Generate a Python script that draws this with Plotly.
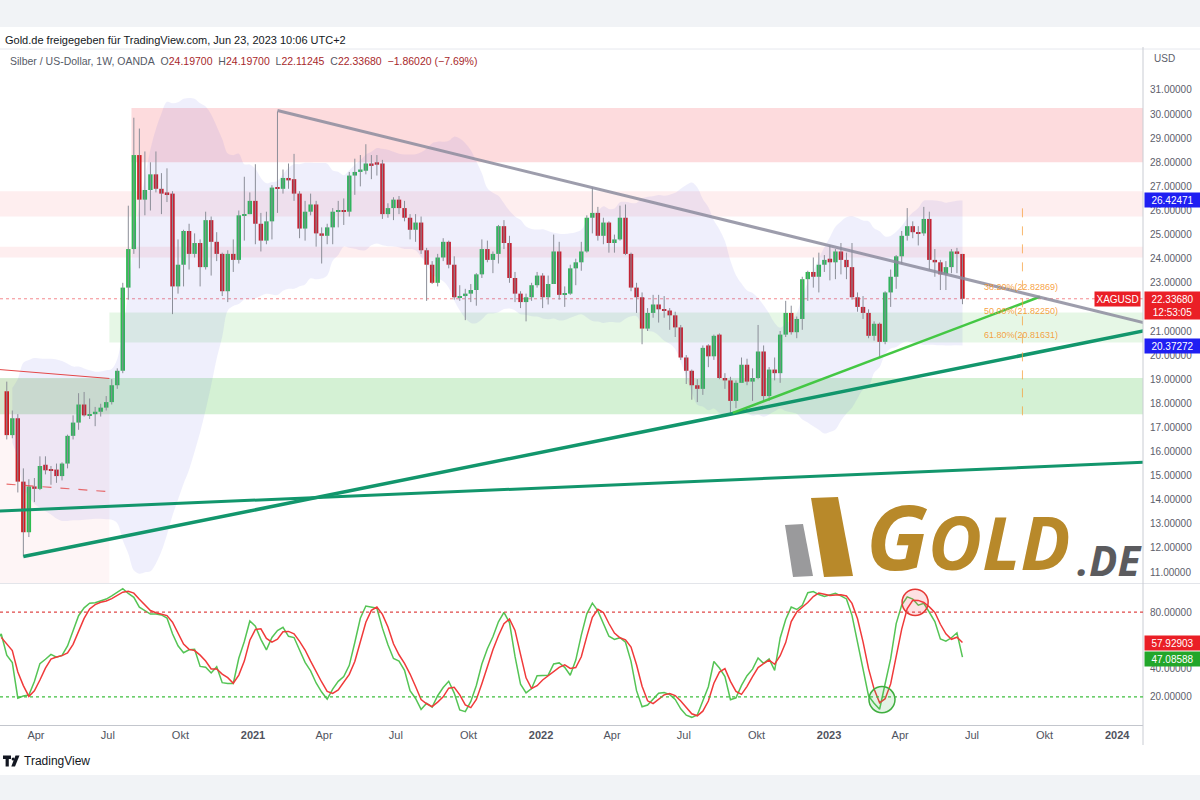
import numpy as np
import pandas as pd
import plotly.graph_objects as go

# ---------------- data (weekly XAGUSD, OANDA) ----------------
# warm-up weeks before the visible window (Oct 21 2019 .. Feb 17 2020), used only for indicators
prior_open = [17.50, 17.52, 18.13, 16.82, 16.94, 17.00, 16.97, 16.50, 16.95, 17.15, 17.80, 18.06, 17.96, 18.04, 18.09, 18.04, 17.75, 17.73]
prior_high = [17.72, 18.18, 18.22, 17.05, 17.10, 17.05, 17.18, 17.13, 17.25, 17.85, 18.37, 18.83, 18.10, 18.24, 18.34, 18.09, 17.82, 18.62]
prior_low = [17.36, 17.44, 16.77, 16.58, 16.89, 16.86, 16.45, 16.50, 16.85, 17.10, 17.75, 17.70, 17.60, 17.85, 17.85, 17.40, 17.40, 17.70]
prior_close = [17.52, 18.13, 16.82, 16.94, 17.00, 16.97, 16.50, 16.95, 17.15, 17.80, 18.06, 17.96, 18.04, 18.09, 18.04, 17.75, 17.73, 18.48]

# visible weeks Feb 24 2020 .. Jun 19 2023
open_ = [
    18.50, 16.68, 17.38, 14.75, 12.65, 14.55, 14.45, 15.45, 15.22, 15.25, 14.98, 15.50, 16.65, 17.20, 17.95, 17.50, 17.55, 17.65, 17.82, 18.05,
    18.75, 19.35, 22.80, 24.40, 28.30, 26.45, 26.85, 27.50, 26.90, 26.75, 26.70, 22.85, 23.75, 25.15, 24.20, 24.65, 23.65, 25.60, 24.70, 24.20,
    22.65, 24.20, 23.95, 25.80, 25.85, 26.40, 25.45, 24.75, 25.55, 26.95, 26.90, 27.35, 27.30, 26.70, 25.25, 25.95, 26.25, 25.05, 24.95, 25.30,
    25.95, 26.00, 25.95, 27.45, 27.60, 27.65, 27.95, 28.00, 27.95, 25.85, 26.10, 26.45, 26.10, 25.70, 25.20, 25.50, 24.35, 23.75, 23.00, 24.05,
    24.70, 23.75, 22.40, 22.45, 22.55, 22.70, 23.35, 24.40, 23.95, 24.20, 25.35, 24.65, 23.20, 22.55, 22.20, 22.40, 22.90, 23.30, 22.40, 22.95,
    24.30, 22.50, 22.55, 23.60, 23.85, 24.30, 25.70, 25.90, 24.95, 25.50, 24.65, 24.80, 25.70, 24.20, 22.80, 22.40, 21.10, 21.75, 22.10, 21.90,
    21.85, 21.65, 21.15, 19.90, 19.35, 18.75, 18.60, 20.40, 19.95, 20.85, 19.05, 18.95, 18.10, 18.85, 19.60, 18.90, 19.05, 20.15, 18.30, 19.40,
    19.25, 20.85, 21.75, 20.95, 21.50, 23.15, 23.45, 23.25, 23.75, 24.00, 23.85, 24.30, 23.95, 23.65, 22.40, 22.00, 21.75, 20.80, 21.30, 20.55,
    22.60, 23.25, 24.10, 24.95, 25.35, 25.10, 25.05, 25.65, 23.95, 23.85, 23.35, 23.65, 24.30, 24.197,
]
high = [
    18.90, 17.70, 17.55, 15.30, 14.85, 14.90, 15.80, 15.80, 15.40, 15.50, 15.55, 16.70, 17.50, 18.42, 18.47, 18.20, 17.85, 17.98, 18.30, 19.00,
    19.45, 23.00, 26.20, 29.85, 29.40, 28.45, 28.00, 28.45, 27.55, 27.75, 26.80, 24.80, 25.20, 25.45, 25.05, 24.80, 25.95, 25.75, 25.10, 24.25,
    24.35, 24.80, 26.00, 27.40, 26.75, 27.92, 25.90, 25.95, 27.05, 30.10, 27.70, 27.95, 28.35, 26.80, 26.40, 26.70, 26.40, 25.30, 25.45, 26.10,
    26.40, 26.50, 27.60, 28.15, 28.30, 28.75, 28.30, 28.30, 28.10, 26.30, 26.55, 26.60, 26.40, 25.85, 25.85, 25.75, 24.45, 23.90, 24.20, 24.85,
    24.75, 24.10, 22.90, 22.75, 22.95, 23.40, 24.80, 24.75, 24.30, 25.40, 25.60, 24.95, 23.45, 22.65, 22.55, 23.00, 23.45, 23.40, 23.30, 25.00,
    24.70, 22.85, 23.75, 24.00, 24.70, 25.80, 26.95, 26.15, 25.70, 25.55, 25.00, 26.20, 26.25, 24.25, 23.00, 22.60, 21.95, 22.50, 22.50, 22.45,
    21.95, 21.80, 21.25, 20.00, 19.40, 19.00, 20.40, 20.45, 20.85, 20.90, 19.25, 19.10, 18.95, 19.90, 19.85, 19.45, 21.25, 20.40, 19.50, 19.90,
    21.00, 22.25, 22.05, 21.60, 23.25, 23.50, 24.05, 24.25, 24.15, 24.55, 24.40, 24.65, 24.25, 24.65, 22.60, 22.45, 21.90, 21.40, 21.35, 22.65,
    23.55, 24.15, 25.15, 26.10, 25.55, 25.35, 26.15, 25.95, 24.40, 23.95, 23.90, 24.40, 24.45, 24.197,
]
low = [
    16.50, 16.55, 14.30, 11.64, 12.45, 13.90, 14.40, 15.05, 14.62, 14.70, 14.80, 15.30, 16.50, 16.90, 17.45, 17.35, 17.05, 17.45, 17.70, 17.95,
    18.60, 19.25, 22.30, 24.20, 23.60, 25.80, 26.00, 26.75, 25.85, 26.35, 21.70, 22.55, 22.85, 23.55, 24.05, 22.85, 23.55, 23.30, 23.90, 22.45,
    22.20, 23.45, 23.80, 24.75, 25.85, 24.60, 24.30, 24.60, 24.80, 25.90, 26.70, 26.90, 26.40, 24.85, 24.75, 25.80, 24.50, 23.80, 24.60, 24.60,
    25.30, 25.40, 25.75, 26.65, 27.00, 27.50, 27.30, 27.45, 25.65, 25.70, 25.60, 25.85, 25.55, 24.80, 24.70, 24.20, 22.25, 22.95, 22.85, 23.90,
    23.60, 22.30, 22.25, 21.45, 22.20, 22.05, 23.20, 23.85, 23.40, 23.80, 24.40, 23.00, 22.20, 21.95, 21.40, 22.25, 22.80, 21.95, 22.10, 22.95,
    22.30, 22.00, 22.50, 22.90, 23.50, 24.25, 25.05, 24.75, 24.60, 24.25, 24.25, 24.75, 24.15, 22.65, 21.75, 20.45, 21.00, 21.55, 21.35, 21.55,
    21.05, 20.75, 19.80, 18.80, 18.15, 18.05, 18.35, 19.50, 19.80, 19.00, 18.60, 17.55, 17.80, 18.85, 18.75, 18.10, 19.00, 18.10, 18.10, 18.95,
    18.85, 20.75, 20.85, 20.70, 21.05, 22.25, 22.80, 22.60, 23.45, 23.10, 23.15, 23.35, 23.15, 22.30, 21.80, 21.50, 20.70, 20.60, 19.90, 20.45,
    22.00, 22.75, 23.80, 24.75, 24.85, 24.55, 24.95, 23.55, 23.25, 22.70, 22.70, 23.40, 23.40, 22.11245,
]
close = [
    16.68, 17.38, 14.75, 12.65, 14.55, 14.45, 15.40, 15.22, 15.20, 14.98, 15.50, 16.65, 17.20, 17.95, 17.50, 17.55, 17.65, 17.82, 18.05, 18.75,
    19.35, 22.80, 24.40, 28.30, 26.45, 26.85, 27.50, 26.90, 26.70, 26.68, 22.85, 23.75, 25.15, 24.20, 24.65, 23.65, 25.60, 24.70, 24.20, 22.65,
    24.20, 23.95, 25.80, 25.85, 26.40, 25.45, 24.75, 25.55, 26.95, 26.90, 27.35, 27.25, 26.70, 25.25, 25.95, 26.25, 25.05, 24.95, 25.30, 25.95,
    26.00, 25.95, 27.45, 27.60, 27.70, 27.95, 27.85, 27.90, 25.85, 26.10, 26.45, 26.10, 25.70, 25.20, 25.50, 24.35, 23.75, 23.00, 24.05, 24.70,
    23.75, 22.40, 22.45, 22.55, 22.70, 23.35, 24.40, 23.95, 24.20, 25.35, 24.65, 23.20, 22.55, 22.20, 22.40, 22.90, 23.30, 22.40, 22.95, 24.30,
    22.50, 22.55, 23.60, 23.85, 24.30, 25.70, 25.90, 24.95, 25.50, 24.65, 24.80, 25.70, 24.20, 22.80, 22.40, 21.10, 21.75, 22.10, 21.90, 21.85,
    21.65, 21.15, 19.90, 19.35, 18.75, 18.60, 20.30, 19.95, 20.80, 19.05, 18.95, 18.10, 18.85, 19.60, 18.90, 19.05, 20.15, 18.30, 19.40, 19.25,
    20.85, 21.75, 20.95, 21.50, 23.15, 23.45, 23.25, 23.75, 23.95, 23.85, 24.30, 23.95, 23.65, 22.40, 22.00, 21.75, 20.80, 21.30, 20.55, 22.60,
    23.25, 24.10, 24.95, 25.35, 25.10, 25.05, 25.65, 23.95, 23.85, 23.35, 23.65, 24.30, 24.20, 22.3368,
]
first_week = "2020-02-24"

# drawn zones (price levels)
zone_top = [30.25, 26.80, 24.50, 21.77, 19.05]
zone_bottom = [28.00, 25.75, 24.05, 20.52, 17.55]
zone_start = ["2020-07-31", None, None, "2020-07-03", None]

# trendline anchors (date, price)
gray_trend = [("2021-02-01", 30.15), ("2022-03-07", 26.95)]
light_green_trend = [("2022-09-01", 17.60), ("2023-09-25", 22.42)]
green_trend_a = [("2020-03-16", 11.64), ("2022-09-01", 17.57)]
green_trend_b = [("2020-02-15", 13.53), ("2024-02-03", 15.55)]
red_trend = [("2020-02-15", 19.40), ("2020-07-03", 19.03)]
red_dash_trend = [("2020-02-15", 14.67), ("2020-07-03", 14.33)]

fib_pcts = ["38.20%", "50.00%", "61.80%"]
fib_levels = [22.82869, 21.82250, 20.81631]

last_price = 22.33680
countdown = "12:53:05"
bb_upper_last = 26.42471
bb_lower_last = 20.37272
stoch_d_last = 57.92903
stoch_k_last = 47.08588

circle_dates = ["2023-03-09", "2023-04-20"]
circle_vals = [18.0, 87.0]

tick_dates = ["2020-04-01", "2020-07-01", "2020-10-01", "2021-01-01", "2021-04-01", "2021-07-01", "2021-10-01",
              "2022-01-01", "2022-04-01", "2022-07-01", "2022-10-01", "2023-01-01", "2023-04-01", "2023-07-01",
              "2023-10-01", "2024-01-01"]
tick_text = ["Apr", "Jul", "Okt", "<b>2021</b>", "Apr", "Jul", "Okt", "<b>2022</b>", "Apr", "Jul", "Okt",
             "<b>2023</b>", "Apr", "Jul", "Okt", "<b>2024</b>"]
price_ticks = [11, 12, 13, 14, 15, 16, 17, 18, 19, 20, 21, 23, 24, 25, 26, 27, 28, 29, 30, 31]
stoch_ticks = [20, 40, 80]

# ---------------- styling ----------------
FONT = "Liberation Sans, Arial, sans-serif"
GREEN = "#2cbd4f"
RED = "#cf1d22"
LABEL_RED = "#ea1f26"
X_RANGE = ["2020-02-15 10:00", "2024-02-02 18:00"]
W_PLOT, BOT, H_PLOT = 1143, 725, 650


def px(x):
    return x / W_PLOT


def py(y):
    return (BOT - y) / H_PLOT


def line_pts(anchor, start=None, end=None):
    (d0, p0), (d1, p1) = anchor
    t0, t1 = pd.Timestamp(d0), pd.Timestamp(d1)
    slope = (p1 - p0) / (t1 - t0).total_seconds()
    xs = [pd.Timestamp(start) if start else t0, pd.Timestamp(end) if end else t1]
    ys = [p0 + slope * (x - t0).total_seconds() for x in xs]
    return xs, ys


vis_dates = pd.date_range(first_week, periods=len(close), freq="W-MON")
prior_dates = pd.date_range(end=vis_dates[0] - pd.Timedelta(days=7), periods=len(prior_close), freq="W-MON")
all_dates = prior_dates.append(vis_dates)
all_high = pd.Series(prior_high + high)
all_low = pd.Series(prior_low + low)
all_close = pd.Series(prior_close + close)

# Bollinger Bands (20, 2)
mid = all_close.rolling(20).mean()
sd = all_close.rolling(20).std(ddof=0)
bb_up = mid + 2 * sd
bb_lo = mid - 2 * sd
bbv = mid.notna().values

# Stochastic (14, 3, 3)
hh = all_high.rolling(14).max()
ll = all_low.rolling(14).min()
raw_k = 100 * (all_close - ll) / (hh - ll)
k = raw_k.rolling(3).mean()
d = k.rolling(3).mean()

fig = go.Figure()

fig.add_trace(go.Scatter(x=all_dates[bbv], y=bb_up[bbv], mode="lines", line=dict(width=0, shape="spline"),
                         hoverinfo="skip", xaxis="x", yaxis="y"))
fig.add_trace(go.Scatter(x=all_dates[bbv], y=bb_lo[bbv], mode="lines", line=dict(width=0, shape="spline"),
                         fill="tonexty", fillcolor="rgba(98,98,230,0.10)", hoverinfo="skip", xaxis="x", yaxis="y"))

# wicks
wx, wy = [], []
for dt, h, l in zip(vis_dates, high, low):
    wx += [dt, dt, None]
    wy += [l, h, None]
fig.add_trace(go.Scatter(x=wx, y=wy, mode="lines", line=dict(color="#8b8e98", width=1), hoverinfo="skip",
                         xaxis="x", yaxis="y"))

o_arr, c_arr = np.array(open_), np.array(close)
body_base = np.minimum(o_arr, c_arr)
body_h = np.maximum(np.abs(c_arr - o_arr), 0.04)
body_col = np.where(c_arr >= o_arr, GREEN, RED)
fig.add_trace(go.Bar(x=vis_dates, y=body_h, base=body_base, width=5.6 * 86400000,
                     marker=dict(color=body_col, line=dict(width=0)),
                     hoverinfo="skip", xaxis="x", yaxis="y"))

# trendlines
for anchor, start, end, color, width, dash in [
    (green_trend_b, "2020-02-01", "2024-02-10", "#12966c", 3, "solid"),
    (green_trend_a, None, "2024-02-10", "#12966c", 3.5, "solid"),
    (light_green_trend, None, None, "#44c744", 2.5, "solid"),
    (gray_trend, None, "2024-02-10", "rgba(140,140,158,0.85)", 3, "solid"),
    (red_trend, "2020-02-01", None, "#e44848", 1, "solid"),
    (red_dash_trend, "2020-02-01", None, "rgba(228,72,72,0.8)", 1.2, "dash"),
]:
    xs, ys = line_pts(anchor, start, end)
    fig.add_trace(go.Scatter(x=xs, y=ys, mode="lines", line=dict(color=color, width=width, dash=dash),
                             hoverinfo="skip", xaxis="x", yaxis="y"))

# stochastic
kv, dv = k.notna().values, d.notna().values
fig.add_trace(go.Scatter(x=all_dates[kv], y=k[kv], mode="lines", line=dict(color="#55c455", width=1.5),
                         hoverinfo="skip", xaxis="x2", yaxis="y2"))
fig.add_trace(go.Scatter(x=all_dates[dv], y=d[dv], mode="lines", line=dict(color="#f03a3a", width=1.5),
                         hoverinfo="skip", xaxis="x2", yaxis="y2"))

shapes = []
# top / bottom grey bands, separators
shapes.append(dict(type="rect", xref="paper", yref="paper", x0=0, x1=px(1200), y0=py(0), y1=py(27),
                   fillcolor="#f1f3f6", line=dict(width=0)))
shapes.append(dict(type="rect", xref="paper", yref="paper", x0=0, x1=px(1200), y0=py(775), y1=py(800),
                   fillcolor="#f1f3f6", line=dict(width=0)))
shapes.append(dict(type="line", xref="paper", yref="paper", x0=0, x1=px(1200), y0=py(49), y1=py(49),
                   line=dict(color="#e6e8ee", width=1)))
shapes.append(dict(type="line", xref="paper", yref="paper", x0=0, x1=px(1200), y0=py(583.5), y1=py(583.5),
                   line=dict(color="#e3e5ea", width=1)))
shapes.append(dict(type="line", xref="paper", yref="paper", x0=1, x1=1, y0=py(745), y1=py(47),
                   line=dict(color="#c9ccd3", width=1)))

# zones
zone_fill = ["rgba(242,54,69,0.18)", "rgba(242,54,69,0.085)", "rgba(242,54,69,0.085)",
             "rgba(60,190,60,0.13)", "rgba(60,190,60,0.22)"]
for top, bot, st, fc in zip(zone_top, zone_bottom, zone_start, zone_fill):
    shapes.append(dict(type="rect", xref="x", yref="y", x0=st if st else X_RANGE[0], x1="2024-03-01",
                       y0=bot, y1=top, fillcolor=fc, line=dict(width=0), layer="below"))
# bottom-left pink box
shapes.append(dict(type="rect", xref="x", yref="y", x0=X_RANGE[0], x1=red_trend[1][0], y0=10.5, y1=red_trend[1][1],
                   fillcolor="rgba(242,54,69,0.05)", line=dict(width=0), layer="below"))
# last price line
shapes.append(dict(type="line", xref="paper", yref="y", x0=0, x1=1, y0=last_price, y1=last_price,
                   line=dict(color="rgba(235,40,50,0.55)", width=1, dash="dot"), layer="below"))
# fib vertical
shapes.append(dict(type="line", xref="x", yref="y", x0="2023-09-03", x1="2023-09-03", y0=17.5, y1=26.1,
                   line=dict(color="rgba(245,160,60,0.75)", width=1, dash="dash")))
# stochastic bands
shapes.append(dict(type="line", xref="paper", yref="y2", x0=0, x1=1, y0=80, y1=80,
                   line=dict(color="#e04848", width=1.2, dash="dot")))
shapes.append(dict(type="line", xref="paper", yref="y2", x0=0, x1=1, y0=20, y1=20,
                   line=dict(color="#3fbf3f", width=1.2, dash="dot")))
# circles
for cd, cv, lc, fc in zip(circle_dates, circle_vals, ["#3fae3f", "#e53935"],
                          ["rgba(76,175,80,0.15)", "rgba(242,54,69,0.15)"]):
    c0 = pd.Timestamp(cd)
    rx = pd.Timedelta(days=16.5)
    shapes.append(dict(type="circle", xref="x2", yref="y2", x0=c0 - rx, x1=c0 + rx, y0=cv - 9.3, y1=cv + 9.3,
                       fillcolor=fc, line=dict(color=lc, width=1.5)))


# logo icon bars (paper coords from pixel layout)
def ppath(pts):
    return "M " + " L ".join(f"{px(x):.5f},{py(y):.5f}" for x, y in pts) + " Z"


shapes.append(dict(type="path", xref="paper", yref="paper", path=ppath([(785, 525), (803, 524), (813, 576), (793, 577)]),
                   fillcolor="#9a9a9c", line=dict(width=0)))
shapes.append(dict(type="path", xref="paper", yref="paper", path=ppath([(811, 498), (838, 497), (853, 576), (824, 577)]),
                   fillcolor="#b8892a", line=dict(width=0)))
# TradingView mark
shapes.append(dict(type="path", xref="paper", yref="paper",
                   path=ppath([(3, 755.5), (11, 755.5), (11, 759), (8.8, 759), (8.8, 766.5), (5.6, 766.5), (5.6, 759), (3, 759)]),
                   fillcolor="#131722", line=dict(width=0)))
shapes.append(dict(type="circle", xref="paper", yref="paper", x0=px(11.6), x1=px(14.6), y0=py(760.5), y1=py(757.5),
                   fillcolor="#131722", line=dict(width=0)))
shapes.append(dict(type="path", xref="paper", yref="paper", path=ppath([(15.5, 755.5), (19.5, 755.5), (15, 766.5), (11.3, 766.5)]),
                   fillcolor="#131722", line=dict(width=0)))

ann = []
ann.append(dict(xref="paper", yref="paper", x=px(3), y=py(40), xanchor="left", yanchor="middle", showarrow=False,
                text="Gold.de freigegeben für TradingView.com, Jun 23, 2023 10:06 UTC+2",
                font=dict(family=FONT, size=11, color="#131722")))
vr = "#a8282b"
gr = "#555a66"
sp = "\u00a0\u00a0"
hdr = (f"<span style='color:{gr}'>Silber / US-Dollar, 1W, OANDA</span>{sp}"
       f"<span style='color:{gr}'>O</span><span style='color:{vr}'>24.19700</span>{sp}"
       f"<span style='color:{gr}'>H</span><span style='color:{vr}'>24.19700</span>{sp}"
       f"<span style='color:{gr}'>L</span><span style='color:{vr}'>22.11245</span>{sp}"
       f"<span style='color:{gr}'>C</span><span style='color:{vr}'>22.33680</span>{sp}"
       f"<span style='color:{vr}'>\u22121.86020 (\u22127.69%)</span>")
ann.append(dict(xref="paper", yref="paper", x=px(8), y=py(61), xanchor="left", yanchor="middle", showarrow=False,
                text=hdr, font=dict(family=FONT, size=10.5, color=gr)))
ann.append(dict(xref="paper", yref="paper", x=px(1152), y=py(59), xanchor="left", yanchor="middle", showarrow=False,
                text="USD", font=dict(family=FONT, size=10, color="#5d606b")))


# axis value labels
def axis_label(y, yref, text, bg, fg="white"):
    return dict(xref="paper", yref=yref, x=1, xshift=1, y=y, xanchor="left", yanchor="middle", showarrow=False,
                text=text, bgcolor=bg, borderpad=1.5, width=52, align="center",
                font=dict(family=FONT, size=10, color=fg))


ann.append(axis_label(bb_upper_last, "y", f"{bb_upper_last:.5f}", "#1f1ff2"))
ann.append(axis_label(bb_lower_last, "y", f"{bb_lower_last:.5f}", "#1f1ff2"))
lp = axis_label(last_price, "y", f"{last_price:.5f}<br>{countdown}", LABEL_RED)
lp.update(yanchor="top", yshift=8)
ann.append(lp)
ann.append(dict(xref="paper", yref="y", x=1, xshift=-2, y=last_price, xanchor="right", yanchor="middle",
                showarrow=False, text="XAGUSD", bgcolor=LABEL_RED, borderpad=1.5,
                font=dict(family=FONT, size=10, color="white")))
ann.append(axis_label(stoch_d_last, "y2", f"{stoch_d_last:.5f}", LABEL_RED))
ann.append(axis_label(stoch_k_last, "y2", f"{stoch_k_last:.5f}", "#22a62a"))

# fib labels
for pct, lv in zip(fib_pcts, fib_levels):
    ann.append(dict(xref="x", yref="y", x="2023-10-21", y=lv, xanchor="right", yanchor="middle", showarrow=False,
                    text=f"{pct}({lv:.5f})", font=dict(family=FONT, size=9, color="rgba(245,150,45,0.9)")))

# GOLD.DE logo text
LOGO_FONT = "Open Sans, DejaVu Sans, sans-serif"
ann.append(dict(xref="paper", yref="paper", x=px(864), y=py(577), xanchor="left", yanchor="bottom", yshift=-21,
                showarrow=False, text="<span style='font-size:90px'>G</span>OLD",
                font=dict(family=LOGO_FONT, size=74, color="#b8892a", weight="bold", style="italic")))
ann.append(dict(xref="paper", yref="paper", x=px(1075), y=py(577), xanchor="left", yanchor="bottom", yshift=-13,
                showarrow=False, text=".DE",
                font=dict(family=LOGO_FONT, size=42, color="#5b5b5e", weight="bold", style="italic")))

ann.append(dict(xref="paper", yref="paper", x=px(22), y=py(761), xanchor="left", yanchor="middle", showarrow=False,
                text="TradingView", font=dict(family=FONT, size=12, color="#131722")))

axis_font = dict(family=FONT, size=10, color="#5d606b")
fig.update_layout(
    width=1200, height=800,
    margin=dict(l=0, r=57, t=75, b=75),
    paper_bgcolor="white", plot_bgcolor="white",
    showlegend=False, barmode="overlay", hovermode=False,
    shapes=shapes, annotations=ann,
    xaxis=dict(domain=[0, 1], range=X_RANGE, anchor="y", showticklabels=False, showgrid=False, zeroline=False,
               matches="x2"),
    yaxis=dict(domain=[py(583), 1], range=[10.544, 31.622], side="right", anchor="x", tickvals=price_ticks,
               tickformat=".5f", showgrid=False, zeroline=False, tickfont=axis_font, ticks="", ticklabelstandoff=6),
    xaxis2=dict(domain=[0, 1], range=X_RANGE, anchor="y2", tickvals=tick_dates, ticktext=tick_text,
                showgrid=False, zeroline=False, showline=True, linecolor="#c3c6cd", linewidth=1, ticks="",
                tickfont=dict(family=FONT, size=11, color="#50535e")),
    yaxis2=dict(domain=[0, py(584)], range=[0, 100], side="right", anchor="x2", tickvals=stoch_ticks,
                tickformat=".5f", showgrid=False, zeroline=False, tickfont=axis_font, ticks="", ticklabelstandoff=6),
)

fig.write_html("out.html")
